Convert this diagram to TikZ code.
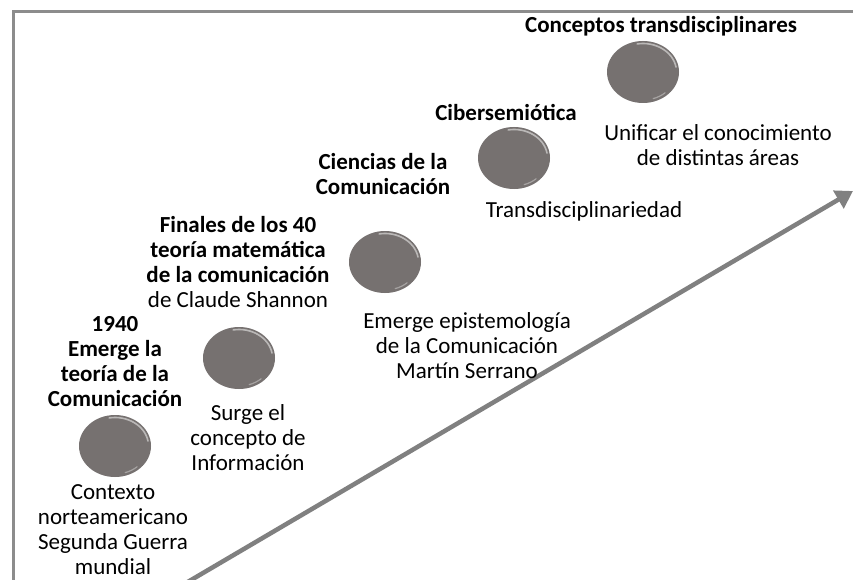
\documentclass[tikz,border=0pt]{standalone}
\usepackage{fontspec}
\setmainfont{Carlito}
\usetikzlibrary{arrows.meta,shapes.geometric}
\definecolor{dotgray}{RGB}{118,113,112}
\definecolor{framegray}{RGB}{140,140,140}
\definecolor{arrowgray}{RGB}{128,128,128}
\tikzset{
  dot/.style={ellipse, draw=none, fill=dotgray, minimum width=72pt, minimum height=62pt, inner sep=0pt},
  lbl/.style={align=center, inner sep=0pt, font=\fontsize{23}{25}\selectfont},
  blbl/.style={lbl, font=\fontsize{23}{25}\selectfont\bfseries},
  rim/.style={white, opacity=0.5, line width=1.6pt, line cap=round},
}
\newcommand{\shinedot}[2]{%
  \node[dot] (#1) at #2 {};
  \draw[rim]
    ([shift={(10:33.5pt and 28.5pt)}]#1.center) arc[start angle=10, end angle=100, x radius=33.5pt, y radius=28.5pt];
  \draw[rim, opacity=0.35, line width=1.2pt]
    ([shift={(-48:33pt and 28pt)}]#1.center) arc[start angle=-48, end angle=-72, x radius=33pt, y radius=28pt];
}
\begin{document}
\begin{tikzpicture}[x=1pt,y=-1pt]
\useasboundingbox (0,0) rectangle (853,580);
\fill[white] (0,0) rectangle (853,580);
% frame
\draw[framegray, line width=3pt] (13,580) -- (13,12) -- (853,12);
% arrow
\coordinate (astart) at (186,583);
\coordinate (aend) at (853,191);
\draw[arrowgray, line width=4.5pt, -{Triangle[length=17pt,width=20pt]}] (astart) -- (aend);
% dots
\shinedot{d1}{(115,446)}
\shinedot{d2}{(239,358)}
\shinedot{d3}{(385,262)}
\shinedot{d4}{(514,158)}
\shinedot{d5}{(643,72)}
% labels
\node[blbl] (t1) at (115,362) {1940\\Emerge la\\teoría de la\\Comunicación};
\node[lbl] (b1) at (113,530) {Contexto\\norteamericano\\Segunda Guerra\\mundial};
\node[lbl] (t2) at (238,262) {\textbf{Finales de los 40}\\\textbf{teoría matemática}\\\textbf{de la comunicación}\\de Claude Shannon};
\node[lbl] (b2) at (248,438) {Surge el\\concepto de\\Información};
\node[blbl] (t3) at (383,174) {Ciencias de la\\Comunicación};
\node[lbl] (b3) at (467,346) {Emerge epistemología\\de la Comunicación\\Martín Serrano};
\node[blbl] (t4) at (506,112) {Cibersemiótica};
\node[lbl] (b4) at (584,211) {Transdisciplinariedad};
\node[blbl] (t5) at (661,26) {Conceptos transdisciplinares};
\node[lbl] (b5) at (718,145) {Unificar el conocimiento\\de distintas áreas};
\end{tikzpicture}
\end{document}
